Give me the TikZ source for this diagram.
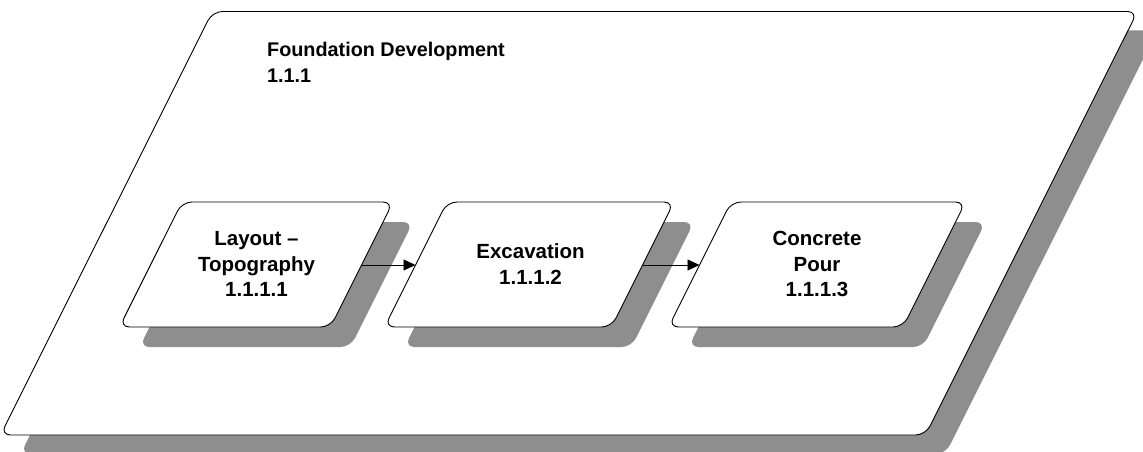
\documentclass[tikz,border=0pt]{standalone}
\usepackage{fontspec}
\setmainfont{Liberation Sans}
\usetikzlibrary{arrows.meta}
\definecolor{shadowgray}{RGB}{142,142,142}
\begin{document}
\begin{tikzpicture}[x=1pt,y=-1pt,
  shadowshape/.style={fill=shadowgray,draw=none,rounded corners=10pt},
  boxshape/.style={fill=white,draw=black,line width=0.9pt,rounded corners=10pt},
  boxtext/.style={anchor=base,align=center,inner sep=0pt,font=\fontsize{20.5}{25.5}\selectfont\bfseries},
  titletext/.style={anchor=base west,align=left,inner sep=0pt,font=\fontsize{19.8}{26}\selectfont\bfseries},
  flow/.style={draw=black,line width=0.9pt,-{Triangle[length=12pt,width=11pt]}}]
\useasboundingbox (0,0) rectangle (1143,452);
% outer work package
\draw[shadowshape] (232.5,30.5) -- (1157.5,30.5) -- (945.5,454) -- (20.5,454) -- cycle;
\draw[boxshape] (212.5,11.5) -- (1137.5,11.5) -- (925.5,435) -- (0.5,435) -- cycle;
\node[titletext] (t0) at (267,82.7) {Foundation Development\\1.1.1};
% shadows of tasks
\draw[shadowshape] (202,222) -- (413,222) -- (350.5,347) -- (139.5,347) -- cycle;
\draw[shadowshape] (467,222) -- (694,222) -- (631.5,347) -- (404.5,347) -- cycle;
\draw[shadowshape] (751,222) -- (985.5,222) -- (923,347) -- (688.5,347) -- cycle;
% tasks
\draw[boxshape] (182,202) -- (393,202) -- (330.5,327) -- (119.5,327) -- cycle;
\draw[boxshape] (447,202) -- (674,202) -- (611.5,327) -- (384.5,327) -- cycle;
\draw[boxshape] (731,202) -- (965.5,202) -- (903,327) -- (668.5,327) -- cycle;
\node[boxtext] (t1) at (256.5,296.7) {Layout –\\Topography\\1.1.1.1};
\node[boxtext] (t2) at (530.5,284) {Excavation\\1.1.1.2};
\node[boxtext] (t3) at (817,296.7) {Concrete\\Pour\\1.1.1.3};
% connector end points on the task edges
\coordinate (b1out) at (361.5,265);
\coordinate (b2in) at (415.5,265);
\coordinate (b2out) at (642.5,265);
\coordinate (b3in) at (699.5,265);
\draw[flow] (b1out) -- (b2in);
\draw[flow] (b2out) -- (b3in);
\end{tikzpicture}
\end{document}
